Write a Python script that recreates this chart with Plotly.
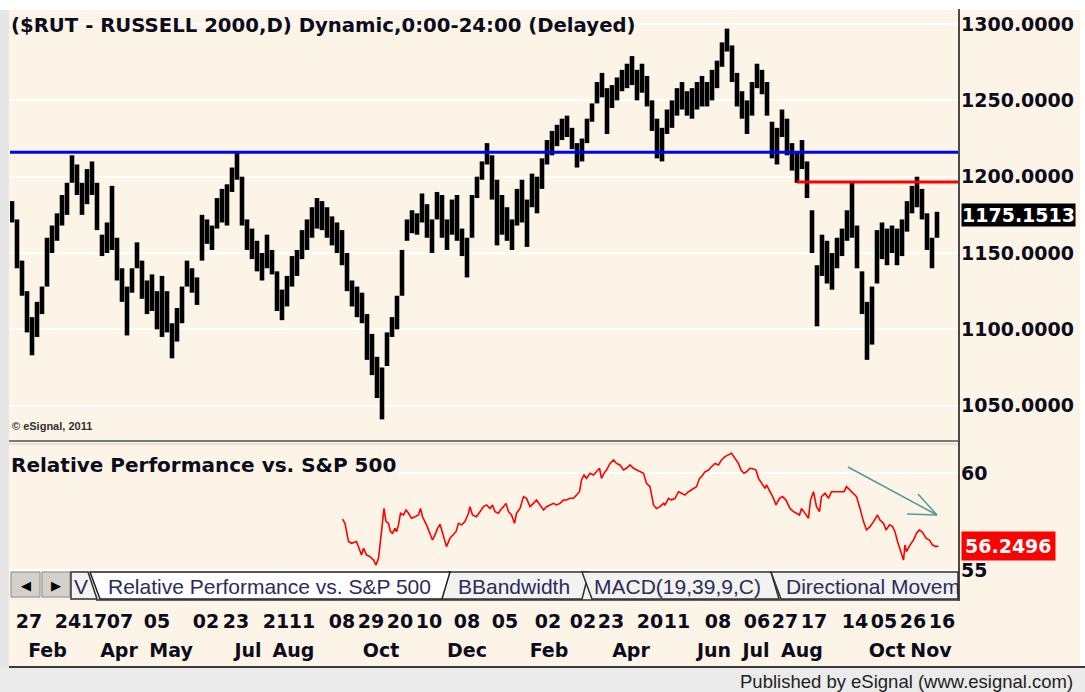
import plotly.graph_objects as go

# Layout is described in reference pixels (1085 x 692); the page is captured slightly
# taller than the window, so the figure is made 701 px tall with the same fractions.
REF_W, REF_H = 1085, 692
W, H = 1085, 701
def px(x): return x / REF_W
def py(y): return 1 - y / REF_H

title_text = "($RUT - RUSSELL 2000,D) Dynamic,0:00-24:00 (Delayed)"
panel2_title = "Relative Performance vs. S&P 500"
copyright_text = "© eSignal, 2011"
publisher_text = "Published by eSignal (www.esignal.com)"

# daily-ish price bars (high / low)
highs = [
    1184, 1172, 1145, 1125, 1108, 1118, 1128, 1160, 1168, 1176,
    1188, 1196, 1214, 1208, 1196, 1205, 1210, 1196, 1162, 1170,
    1194, 1160, 1140, 1128, 1140, 1157, 1145, 1132, 1136, 1125,
    1135, 1125, 1104, 1114, 1128, 1145, 1140, 1134, 1175, 1172,
    1168, 1186, 1192, 1195, 1206, 1216, 1200, 1172, 1166, 1158,
    1150, 1162, 1152, 1138, 1126, 1135, 1148, 1152, 1165, 1172,
    1180, 1186, 1184,
    1180, 1174, 1170, 1165, 1150, 1132, 1128, 1124, 1110, 1097,
    1082, 1075, 1098, 1108, 1122, 1152, 1172, 1178, 1176, 1189,
    1182, 1172, 1190, 1188, 1172, 1185, 1188, 1166, 1160, 1188,
    1200, 1210, 1222, 1214, 1198, 1188, 1180, 1172, 1192, 1198,
    1185, 1202, 1200, 1212, 1224, 1230, 1234, 1238, 1240, 1232,
    1222, 1225, 1238, 1248, 1262, 1268, 1258, 1260, 1265, 1270,
    1274, 1279, 1270, 1274,
    1266, 1250, 1238, 1232, 1244, 1250, 1258, 1262, 1256, 1258,
    1262, 1266, 1262, 1270, 1276, 1288, 1297, 1286, 1268, 1256,
    1250, 1262, 1274, 1270, 1262, 1236, 1232, 1244, 1238, 1222,
    1216, 1224, 1210, 1178, 1142, 1162, 1158, 1150, 1160, 1166,
    1178, 1196, 1168, 1138, 1118, 1128, 1165, 1170, 1166, 1168,
    1166, 1172, 1184, 1194, 1200, 1192, 1176, 1160, 1177,
]
lows = [
    1170, 1140, 1122, 1098, 1083, 1095, 1110, 1128, 1150, 1158,
    1168, 1175, 1196, 1188, 1175, 1182, 1188, 1165, 1148, 1150,
    1152, 1132, 1118, 1096, 1124, 1140, 1120, 1110, 1112, 1100,
    1095, 1098, 1081, 1092, 1104, 1128, 1124, 1116, 1145, 1156,
    1152, 1166, 1170, 1168, 1190, 1198, 1168, 1152, 1146, 1138,
    1132, 1140, 1136, 1112, 1106, 1115, 1128, 1135, 1146, 1152,
    1160, 1166, 1165,
    1160, 1155, 1150, 1142, 1125, 1115, 1108, 1104, 1080, 1070,
    1055, 1041, 1076, 1095, 1100, 1122, 1158, 1163, 1162, 1170,
    1160, 1150, 1172, 1160, 1152, 1162, 1158, 1148, 1134, 1160,
    1186, 1198, 1208, 1185, 1155, 1162, 1158, 1152, 1168, 1170,
    1154, 1180, 1176, 1192, 1208, 1214, 1220, 1224, 1226, 1218,
    1206, 1210, 1222, 1236, 1248, 1252, 1228, 1245, 1250, 1256,
    1258, 1260, 1250, 1255,
    1246, 1230, 1212, 1210, 1228, 1232, 1240, 1244, 1240, 1238,
    1244, 1246, 1246, 1250, 1258, 1272, 1282, 1262, 1246, 1238,
    1228, 1240, 1258, 1254, 1240, 1212, 1208, 1226, 1214, 1204,
    1196, 1205, 1186, 1150, 1102, 1135, 1130, 1126, 1140, 1148,
    1158, 1160, 1140, 1110, 1080, 1090, 1130, 1146, 1142, 1150,
    1142, 1148, 1164, 1176, 1180, 1172, 1152, 1140, 1160,
]
last_price = 1175.1513
support_level = 1216
resistance_level = 1196.5
resistance_start = 157

# relative performance vs S&P 500 (x = bar index)
rp_idx = [
    66.1, 66.6, 67.3, 67.9, 68.9, 69.6, 69.9, 70.3, 70.9, 71.6, 72.3, 72.8, 73.3, 73.6, 73.9,
    74.4, 74.8, 75.3, 75.7, 76.1, 76.6, 76.9, 77.3, 77.7, 78.3, 78.8, 79.3, 79.9, 80.6, 81.3,
    81.7, 82.1, 82.9, 83.6, 84.1, 84.6, 85.1, 85.6, 86.1, 86.6, 86.9, 87.6, 88.3, 88.8, 89.3,
    89.9, 90.6, 91.3, 91.6, 92.1, 92.9, 93.6, 94.3, 94.9, 95.6, 96.1, 96.6, 97.3, 97.7, 98.3,
    98.8, 99.3, 99.9, 100.5, 100.9, 101.6, 102.3, 102.9, 103.6, 104.3, 104.9, 105.6, 106.3,
    106.9, 107.6, 108.3, 108.9, 109.6, 110.3, 110.9, 111.6, 112.3, 112.9, 113.5, 113.9, 114.4,
    114.9, 115.6, 116.3, 116.9, 117.5, 117.9, 118.4, 118.9, 119.6, 120.3, 120.9, 121.6, 122.3,
    122.9, 123.6, 124.3, 124.9,
    125.6, 126.3, 126.9, 127.6, 128.3, 128.9, 129.6, 130.3, 130.6, 131.3, 131.9, 132.6, 133.3,
    133.9, 134.6, 135.3, 136.3, 136.9, 137.5, 137.9, 138.6, 139.3, 139.9, 140.6, 141.3, 141.9,
    142.6, 143.3, 143.9, 144.6, 145.3, 145.8, 146.4, 146.9, 147.6, 148.3, 148.8, 149.3, 149.9,
    150.6, 150.9, 151.6, 152.3, 152.8, 153.5, 154.1, 154.8, 155.6, 156.3, 156.9, 157.5, 157.9,
    158.6, 159.3, 159.7, 160.3, 160.9, 161.5, 161.9, 162.6, 163.3, 163.9, 164.6, 165.3, 165.9,
    166.4, 166.9, 167.6, 168.3, 168.9, 169.6, 170.3, 170.9, 171.6, 172.3, 173.1, 173.6, 174.3,
    174.8, 175.5, 176.1, 176.6, 177.1, 177.7, 178.3, 178.6, 178.9, 179.6, 180.3, 180.9, 181.5,
    182.1, 182.8, 183.5, 184.1, 184.8, 185.3,
]
rp_val = [
    57.64, 57.42, 56.48, 56.39, 56.48, 56.05, 55.79, 56.13, 55.79, 55.70, 55.53, 55.27, 55.62, 56.30, 57.16,
    58.19, 57.51, 57.42, 56.99, 56.91, 57.16, 56.99, 57.34, 57.94, 57.85, 58.11, 57.94, 57.68, 57.76, 57.85,
    58.19, 57.76, 57.34, 56.91, 56.56, 56.82, 57.16, 57.37, 56.91, 56.48, 56.22, 56.65, 56.82, 56.99, 57.42,
    57.34, 57.51, 57.94, 58.28, 57.85, 57.76, 58.02, 58.28, 58.37, 58.19, 58.37, 58.02, 57.94, 58.11, 58.28,
    58.45, 58.02, 57.85, 57.42, 57.94, 58.19, 58.80, 58.71, 58.28, 58.45, 58.62, 58.37, 58.11,
    58.28, 58.37, 58.45, 58.37, 58.45, 58.62, 58.62, 58.71, 58.71, 58.88, 59.05, 59.66, 59.91,
    59.74, 60.00, 59.91, 60.08, 60.26, 59.74, 60.00, 60.17, 60.51, 60.69, 60.51, 60.43, 60.17,
    60.26, 60.43, 60.26, 60.17,
    60.08, 60.00, 59.48, 59.31, 58.37, 58.19, 58.28, 58.45, 58.37, 58.71, 58.62, 58.71, 59.05,
    58.97, 58.88, 59.05, 59.22, 59.31, 59.74, 59.83, 60.08, 60.17, 60.34, 60.51, 60.43, 60.69,
    60.86, 60.94, 61.03, 60.77, 60.51, 60.17, 60.00, 60.08, 60.26, 60.22, 60.17, 59.74, 59.48,
    59.22, 59.40, 59.05, 58.71, 58.37, 58.71, 58.80, 58.62, 58.19, 58.02, 57.94, 57.85, 58.19,
    57.94, 57.68, 58.62, 59.05, 58.28, 58.02, 58.80, 58.97, 58.71, 59.05, 59.05, 59.05, 59.05,
    59.05, 59.31, 59.14, 58.97, 58.80, 58.19, 57.51, 57.08, 57.25, 57.51, 57.85, 57.59, 57.42,
    57.08, 57.34, 57.25, 56.99, 56.48, 55.96, 55.53, 56.30, 55.96, 56.30, 56.56, 56.91, 57.08,
    56.96, 56.65, 56.56, 56.30, 56.22, 56.25,
]
rp_last = 56.2496

price_ticks = [1050, 1100, 1150, 1200, 1250, 1300]
rp_ticks = [55, 60]

day_tick_idx = [3.4, 11.2, 16.4, 21.6, 29, 38.8, 44.8, 52.8, 58, 66, 71.8, 77.6, 83.4, 91,
                98.6, 107.2, 114.2, 119.8, 127.6, 133, 141.2, 149, 154.6, 160.4, 168.6,
                174.4, 180.2, 186]
day_tick_text = ["27", "24", "17", "07", "05", "02", "23", "21", "11", "08", "29", "20", "10",
                 "08", "05", "02", "02", "23", "20", "11", "08", "06", "27", "17", "14", "05",
                 "26", "16"]
month_tick_idx = [7.1, 21.4, 31.8, 47.2, 56.3, 73.8, 91, 107.4, 123.8, 140.4, 148.8, 158,
                  175, 183.8]
month_tick_text = ["Feb", "Apr", "May", "Jul", "Aug", "Oct", "Dec", "Feb", "Apr", "Jun", "Jul",
                   "Aug", "Oct", "Nov"]

tab_labels = ["V", "Relative Performance vs. S&P 500", "BBandwidth", "MACD(19,39,9,C)",
              "Directional Movem"]

CREAM = "#FCF5E7"
TXT = "#0c0c1c"
NUMFONT = "DejaVu Sans"
TXTFONT = "Liberation Sans"
XR = [-0.4, 189.2]

# build bar segments
bx, by = [], []
for k, (h, l) in enumerate(zip(highs, lows)):
    bx += [k, k, None]
    by += [l, h, None]

fig = go.Figure()
fig.add_trace(go.Scatter(x=bx, y=by, mode="lines", line=dict(color="black", width=4.6),
                         xaxis="x", yaxis="y", hoverinfo="skip", showlegend=False))
fig.add_trace(go.Scatter(x=[resistance_start, len(highs) + 20],
                         y=[resistance_level, resistance_level], mode="lines",
                         line=dict(color="#FF0000", width=3), xaxis="x", yaxis="y",
                         showlegend=False, hoverinfo="skip"))
fig.add_trace(go.Scatter(x=rp_idx, y=rp_val, mode="lines", line=dict(color="#FF0000", width=1.6),
                         xaxis="x2", yaxis="y2", showlegend=False, hoverinfo="skip"))
fig.add_trace(go.Scatter(x=[None], y=[None], xaxis="x3", yaxis="y", showlegend=False))
fig.add_trace(go.Scatter(x=[None], y=[None], xaxis="x4", yaxis="y", showlegend=False))

shapes = []
# backgrounds
shapes.append(dict(type="rect", xref="paper", yref="paper", x0=0, x1=px(9), y0=py(667), y1=py(10),
                   fillcolor="#E6E6E6", line=dict(width=0), layer="below"))
shapes.append(dict(type="rect", xref="paper", yref="paper", x0=px(9), x1=px(1080), y0=py(667), y1=py(10),
                   fillcolor=CREAM, line=dict(width=0), layer="below"))
shapes.append(dict(type="rect", xref="paper", yref="paper", x0=0, x1=1, y0=0, y1=py(667),
                   fillcolor="#EBEBEB", line=dict(width=0), layer="below"))
shapes.append(dict(type="line", xref="paper", yref="paper", x0=px(9), x1=1, y0=py(667), y1=py(667),
                   line=dict(color="#3a3a3a", width=2)))
# panel separator
shapes.append(dict(type="line", xref="paper", yref="paper", x0=px(9), x1=px(958), y0=py(441), y1=py(441),
                   line=dict(color="#7a7a7a", width=2)))
shapes.append(dict(type="line", xref="paper", yref="paper", x0=px(9), x1=px(958), y0=py(444), y1=py(444),
                   line=dict(color="#d0d0d0", width=1)))
# support line
shapes.append(dict(type="line", xref="x domain", yref="y", x0=0, x1=1, y0=support_level, y1=support_level,
                   line=dict(color="#0000FF", width=3)))
# right axis line
shapes.append(dict(type="line", xref="paper", yref="paper", x0=px(959), x1=px(959), y0=py(601), y1=py(9),
                   line=dict(color="#4a4a4a", width=2)))

# tab bar
def poly(pts):
    return "M " + " L ".join(f"{px(x):.5f},{py(y):.5f}" for x, y in pts) + " Z"

shapes.append(dict(type="rect", xref="paper", yref="paper", x0=px(10), x1=px(958), y0=py(600), y1=py(572),
                   fillcolor="#F3F1EC", line=dict(width=0)))
for x0, x1 in [(11, 40), (42, 70)]:
    shapes.append(dict(type="rect", xref="paper", yref="paper", x0=px(x0), x1=px(x1), y0=py(597), y1=py(572),
                       fillcolor="#D4D1CA", line=dict(color="#8a8a8a", width=1)))
tab_polys = [
    [(71, 572), (88, 572), (97, 599), (71, 599)],
    [(448, 572), (589, 572), (582, 599), (441, 599)],
    [(582, 572), (771, 572), (779, 599), (592, 599)],
    [(771, 572), (958, 572), (958, 599), (781, 599)],
]
for pts in tab_polys:
    shapes.append(dict(type="path", xref="paper", yref="paper", path=poly(pts),
                       fillcolor="#F2F2F0", line=dict(color="#303030", width=1.5)))
shapes.append(dict(type="path", xref="paper", yref="paper",
                   path=poly([(90, 572), (450, 572), (442, 599), (100, 599)]),
                   fillcolor="white", line=dict(color="#202020", width=1.5)))
shapes.append(dict(type="line", xref="paper", yref="paper", x0=px(96), x1=px(958), y0=py(600), y1=py(600),
                   line=dict(color="#303030", width=1.5)))

# trend arrow
arrow = [((848, 467), (937, 515)), ((918, 494), (937, 515)), ((907, 514), (937, 515))]
for (x0, y0), (x1, y1) in arrow:
    shapes.append(dict(type="line", xref="paper", yref="paper", x0=px(x0), y0=py(y0), x1=px(x1), y1=py(y1),
                       line=dict(color="#4E9C9A", width=1.5)))

ann = []
def text(x, y, s, size, bold=False, color=TXT, anchor="left", family=TXTFONT, bg=None):
    d = dict(xref="paper", yref="paper", x=px(x), y=py(y), text=f"<b>{s}</b>" if bold else s,
             showarrow=False, xanchor=anchor, yanchor="middle",
             font=dict(family=family, size=size, color=color))
    if bg:
        d["bgcolor"] = bg
    ann.append(d)

text(9, 25, title_text, 19.7, bold=True, family=NUMFONT)
text(9, 465, panel2_title, 20, bold=True, family=NUMFONT, bg=CREAM)
text(10, 426, copyright_text, 11, bold=True, color="#303030")
text(1075, 681, publisher_text, 18.5, color="#222222", anchor="right")
text(26, 585, "◀", 13, color="black", anchor="center", family=NUMFONT)
text(56, 585, "▶", 13, color="black", anchor="center", family=NUMFONT)
tab_text_x = [72, 106, 456, 592, 784]
for tx, lbl in zip(tab_text_x, tab_labels):
    text(tx, 586, lbl, 21, color="#2c2c58")

# value tags
ann.append(dict(xref="paper", yref="y", x=px(961), y=last_price, text=f"<b>{last_price:.4f}</b>",
                showarrow=False, xanchor="left", yanchor="middle", bgcolor="black",
                font=dict(family=NUMFONT, size=19, color="white"), borderpad=0))
ann.append(dict(xref="paper", yref="y2", x=px(961), y=rp_last, text=f"<b>{rp_last:.4f}</b>",
                showarrow=False, xanchor="left", yanchor="middle", bgcolor="#FF0000",
                font=dict(family=NUMFONT, size=19, color="white"), borderpad=3))

tickfont = dict(family=NUMFONT, size=19, color=TXT)
fig.update_layout(
    width=W, height=H, margin=dict(l=0, r=0, t=0, b=0),
    paper_bgcolor="white", plot_bgcolor="rgba(0,0,0,0)",
    shapes=shapes, annotations=ann, showlegend=False,
    xaxis=dict(domain=[px(10), px(958)], range=XR, anchor="y", showticklabels=False,
               showgrid=False, zeroline=False, showline=False, ticks=""),
    yaxis=dict(domain=[py(440), py(10)], range=[1027.5, 1309.2], side="right", anchor="x",
               tickvals=price_ticks, ticktext=[f"<b>{v:.4f}</b>" for v in price_ticks],
               tickfont=tickfont, gridcolor="white", gridwidth=1.5, zeroline=False,
               showline=False, ticks="", ticklabelstandoff=2),
    xaxis2=dict(domain=[px(10), px(958)], range=XR, anchor="y2", showticklabels=False,
                showgrid=False, zeroline=False, showline=False, ticks=""),
    yaxis2=dict(domain=[py(572), py(445)], range=[54.91, 61.46], side="right", anchor="x2",
                tickvals=rp_ticks, ticktext=[f"<b>{v}</b>" for v in rp_ticks], tickfont=tickfont,
                gridcolor="white", gridwidth=1.5, zeroline=False, showline=False, ticks="",
                ticklabelstandoff=2),
    xaxis3=dict(overlaying="x", anchor="free", position=py(608), range=XR,
                tickvals=day_tick_idx, ticktext=[f"<b>{t}</b>" for t in day_tick_text],
                tickfont=tickfont, showgrid=False, zeroline=False, showline=False, ticks="",
                tickangle=0),
    xaxis4=dict(overlaying="x", anchor="free", position=py(637), range=XR,
                tickvals=month_tick_idx, ticktext=[f"<b>{t}</b>" for t in month_tick_text],
                tickfont=tickfont, showgrid=False, zeroline=False, showline=False, ticks="",
                tickangle=0),
)
# remove the browser's default 8px page margin so the figure fills the window exactly
fig.write_html("out.html", config={"displayModeBar": False},
               post_script="document.body.style.margin='0';"
                           "document.documentElement.style.overflow='hidden';")
